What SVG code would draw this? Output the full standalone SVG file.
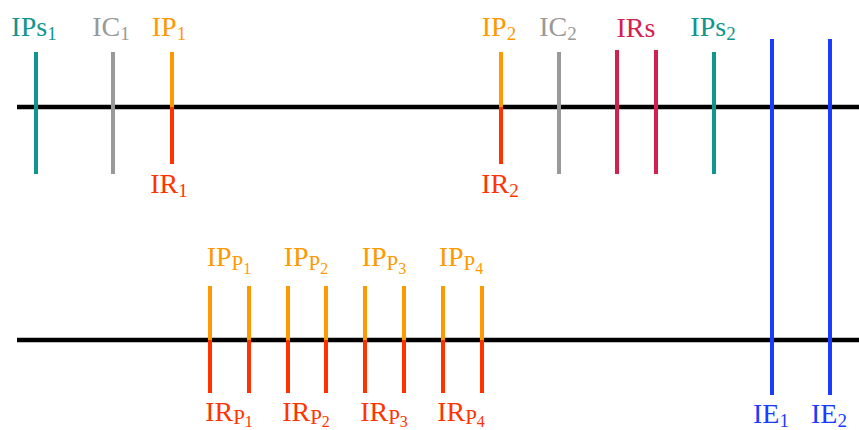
<svg xmlns="http://www.w3.org/2000/svg" width="859" height="430" viewBox="0 0 859 430">
<style>
text{font-family:"Liberation Serif","DejaVu Serif",serif;font-size:28px;text-anchor:middle}
.s{font-size:19px}
.p{font-size:21px}
.ss{font-size:16px}
.axis{stroke:#000;stroke-width:4.5}
.t{stroke-width:4;fill:none}
.teal{stroke:#11958f}.tealf{fill:#11958f}
.gray{stroke:#999}.grayf{fill:#999}
.org{stroke:#ff9900}.orgf{fill:#ff9900}
.red{stroke:#ff3300}.redf{fill:#ff3300}
.crim{stroke:#d2204f}.crimf{fill:#d2204f}
.blue{stroke:#1a3cff}.bluef{fill:#1a3cff}
</style>
<g id="connectors">
<line class="axis" x1="17" y1="107" x2="859" y2="107"/>
<line class="axis" x1="17" y1="340" x2="859" y2="340"/>
</g>
<g id="IPs1"><line class="t teal" x1="36" y1="52" x2="36" y2="174"/><text class="tealf" x="34" y="36">IPs<tspan class="s" dy="4">1</tspan></text></g>
<g id="IC1"><line class="t gray" x1="113" y1="52" x2="113" y2="174"/><text class="grayf" x="111" y="36">IC<tspan class="s" dy="4">1</tspan></text></g>
<g id="IP1"><line class="t org" x1="172" y1="52" x2="172" y2="107"/><text class="orgf" x="169" y="36">IP<tspan class="s" dy="4">1</tspan></text></g>
<g id="IR1"><line class="t red" x1="172" y1="107" x2="172" y2="164"/><text class="redf" x="169" y="193">IR<tspan class="s" dy="4">1</tspan></text></g>
<g id="IP2"><line class="t org" x1="501" y1="52" x2="501" y2="107"/><text class="orgf" x="499" y="36">IP<tspan class="s" dy="4">2</tspan></text></g>
<g id="IR2"><line class="t red" x1="501" y1="107" x2="501" y2="164"/><text class="redf" x="500" y="193">IR<tspan class="s" dy="4">2</tspan></text></g>
<g id="IC2"><line class="t gray" x1="559" y1="52" x2="559" y2="174"/><text class="grayf" x="558" y="36">IC<tspan class="s" dy="4">2</tspan></text></g>
<g id="IRs"><line class="t crim" x1="617" y1="50" x2="617" y2="174"/><line class="t crim" x1="656" y1="50" x2="656" y2="174"/><text class="crimf" x="636" y="37">IRs</text></g>
<g id="IPs2"><line class="t teal" x1="714" y1="52" x2="714" y2="174"/><text class="tealf" x="713" y="36">IPs<tspan class="s" dy="4">2</tspan></text></g>
<g id="IE1"><line class="t blue" x1="772" y1="39" x2="772" y2="395"/><text class="bluef" x="771" y="423">IE<tspan class="s" dy="4">1</tspan></text></g>
<g id="IE2"><line class="t blue" x1="830" y1="39" x2="830" y2="395"/><text class="bluef" x="829" y="423">IE<tspan class="s" dy="4">2</tspan></text></g>
<g id="IPP1"><line class="t org" x1="210" y1="286" x2="210" y2="340"/><line class="t org" x1="249" y1="286" x2="249" y2="340"/><text class="orgf" x="229" y="266">IP<tspan class="p" dy="4">P</tspan><tspan class="ss" dy="4">1</tspan></text></g>
<g id="IRP1"><line class="t red" x1="210" y1="340" x2="210" y2="393"/><line class="t red" x1="249" y1="340" x2="249" y2="393"/><text class="redf" x="229" y="421">IR<tspan class="p" dy="3">P</tspan><tspan class="ss" dy="3">1</tspan></text></g>
<g id="IPP2"><line class="t org" x1="288" y1="286" x2="288" y2="340"/><line class="t org" x1="326" y1="286" x2="326" y2="340"/><text class="orgf" x="306" y="266">IP<tspan class="p" dy="4">P</tspan><tspan class="ss" dy="4">2</tspan></text></g>
<g id="IRP2"><line class="t red" x1="288" y1="340" x2="288" y2="393"/><line class="t red" x1="326" y1="340" x2="326" y2="393"/><text class="redf" x="306" y="421">IR<tspan class="p" dy="3">P</tspan><tspan class="ss" dy="3">2</tspan></text></g>
<g id="IPP3"><line class="t org" x1="365" y1="286" x2="365" y2="340"/><line class="t org" x1="404" y1="286" x2="404" y2="340"/><text class="orgf" x="384" y="266">IP<tspan class="p" dy="4">P</tspan><tspan class="ss" dy="4">3</tspan></text></g>
<g id="IRP3"><line class="t red" x1="365" y1="340" x2="365" y2="393"/><line class="t red" x1="404" y1="340" x2="404" y2="393"/><text class="redf" x="384" y="421">IR<tspan class="p" dy="3">P</tspan><tspan class="ss" dy="3">3</tspan></text></g>
<g id="IPP4"><line class="t org" x1="443" y1="286" x2="443" y2="340"/><line class="t org" x1="482" y1="286" x2="482" y2="340"/><text class="orgf" x="461" y="266">IP<tspan class="p" dy="4">P</tspan><tspan class="ss" dy="4">4</tspan></text></g>
<g id="IRP4"><line class="t red" x1="443" y1="340" x2="443" y2="393"/><line class="t red" x1="482" y1="340" x2="482" y2="393"/><text class="redf" x="461" y="421">IR<tspan class="p" dy="3">P</tspan><tspan class="ss" dy="3">4</tspan></text></g>
</svg>
